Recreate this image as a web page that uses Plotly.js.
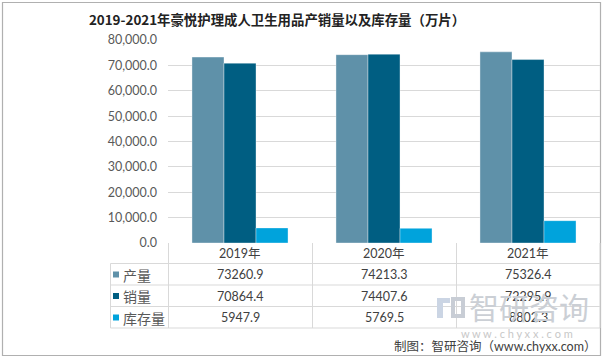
<!DOCTYPE html>
<html><head><meta charset="utf-8">
<script src="https://cdn.plot.ly/plotly-3.0.1.min.js"></script>
<style>html,body{margin:0;padding:0;background:#fff}#c{width:604px;height:359px}</style>
</head><body><div id="c"></div>
<script>
const categories = ['2019年','2020年','2021年'];
const seriesNames = ['产量','销量','库存量'];
const production = [73260.9, 74213.3, 75326.4];
const sales = [70864.4, 74407.6, 72295.9];
const inventory = [5947.9, 5769.5, 8802.3];
const yTicks = [0,10000,20000,30000,40000,50000,60000,70000,80000];
const colors = ['#5F91A9','#005E82','#00A3DC'];
const seriesData = [production, sales, inventory];

const W=604,H=359,L=168,R=4,T=40,B=116;
const pw=W-L-R, ph=H-T-B;
const xp = px => (px-L)/pw;
const yp = py => (H-B-py)/ph;

const traces = seriesData.map((d,i)=>({
  type:'bar', x:categories, y:d, name:seriesNames[i],
  marker:{color:colors[i], line:{color:'rgba(255,255,255,0.6)', width:0.6}},
  hoverinfo:'skip'
}));

const numFont = 'Lato, "Noto Sans CJK SC", sans-serif';
const cjkFont = '"Noto Sans CJK SC", sans-serif';
const srcFont = 'Lato, "Noto Sans CJK SC", sans-serif';
const lineCol = '#d9d9d9';
const shapes = [];
const ann = [];
function A(o){ o.showarrow=false; if(!o.yanchor) o.yanchor='middle'; if(!o.xanchor) o.xanchor='center'; ann.push(o); }
// outer border
shapes.push({type:'rect',xref:'paper',yref:'paper',x0:xp(2.5),x1:xp(600.5),y0:yp(2.5),y1:yp(355.5),line:{color:'#b0b0b0',width:1.2},layer:'below'});
// table grid
const rowY=[263.5,285,306.5,328];
rowY.forEach(y=>shapes.push({type:'line',xref:'paper',yref:'paper',x0:xp(110.5),x1:xp(600),y0:yp(y),y1:yp(y),line:{color:lineCol,width:1}}));
shapes.push({type:'line',xref:'paper',yref:'paper',x0:xp(110.5),x1:xp(110.5),y0:yp(263.5),y1:yp(328),line:{color:lineCol,width:1}});
[168.5,312.5,456.5,600].forEach(x=>shapes.push({type:'line',xref:'paper',yref:'paper',x0:xp(x),x1:xp(x),y0:yp(243),y1:yp(328),line:{color:lineCol,width:1}}));
// header labels
categories.forEach(c=>A({x:c,xref:'x',yref:'paper',y:yp(253.5),text:c,font:{family:numFont,size:12.5,color:'#404040'}}));
// rows
const rowCenters=[274.5,296,317.5];
seriesNames.forEach((n,i)=>{
  shapes.push({type:'rect',xref:'paper',yref:'paper',x0:xp(113),x1:xp(119),y0:yp(rowCenters[i]-3),y1:yp(rowCenters[i]+3),fillcolor:colors[i],line:{width:0}});
  A({xref:'paper',yref:'paper',x:xp(120.5),y:yp(rowCenters[i]),xanchor:'left',text:n,font:{family:cjkFont,size:14,color:'#595959'}});
  categories.forEach((c,j)=>A({x:c,xref:'x',yref:'paper',y:yp(rowCenters[i]),text:seriesData[i][j].toFixed(1),font:{family:numFont,size:12.5,color:'#404040'}}));
});
// watermark logo
shapes.push({type:'rect',xref:'paper',yref:'paper',x0:xp(437),x1:xp(450),y0:yp(298),y1:yp(303),fillcolor:'#cbd5e4',line:{width:0}});
shapes.push({type:'rect',xref:'paper',yref:'paper',x0:xp(437),x1:xp(443),y0:yp(303),y1:yp(318),fillcolor:'#cbd5e4',line:{width:0}});
shapes.push({type:'rect',xref:'paper',yref:'paper',x0:xp(453),x1:xp(463),y0:yp(299),y1:yp(316),fillcolor:'rgba(0,0,0,0)',line:{color:'#c8cdd5',width:4}});
A({xref:'paper',yref:'paper',x:xp(467),y:yp(306),xanchor:'left',text:'智研咨询',font:{family:cjkFont,size:30,color:'#cbcfd5'}});
A({xref:'paper',yref:'paper',x:xp(517),y:yp(333),text:'w w w . c h y x x . c o m',font:{family:numFont,size:11,color:'#c8c8c8'}});
// source
A({xref:'paper',yref:'paper',x:xp(599),y:yp(346.5),xanchor:'right',text:'制图：智研咨询（www.chyxx.com）',font:{family:srcFont,size:12.5,color:'#404040'}});

const layout = {
  width:W,height:H,margin:{l:L,r:R,t:T,b:B},
  paper_bgcolor:'#fff',plot_bgcolor:'#fff',
  title:{text:'<b>2019-2021年豪悦护理成人卫生用品产销量以及库存量（万片）</b>',x:277/W,xanchor:'center',xref:'container',y:1-20/H,yanchor:'middle',font:{family:cjkFont,size:13.4,color:'#222'}},
  barmode:'group',bargap:0.333,bargroupgap:0,showlegend:false,
  xaxis:{showticklabels:false,showgrid:false,zeroline:false,showline:false,ticks:''},
  yaxis:{range:[0,80000],tickvals:yTicks,tickformat:',.1f',showgrid:true,gridcolor:'#d9d9d9',gridwidth:1,zeroline:false,showline:false,ticks:'',ticklabelstandoff:10,tickfont:{family:numFont,size:12.5,color:'#595959'}},
  shapes:shapes, annotations:ann
};
Plotly.newPlot('c',traces,layout,{staticPlot:true});
</script></body></html>
